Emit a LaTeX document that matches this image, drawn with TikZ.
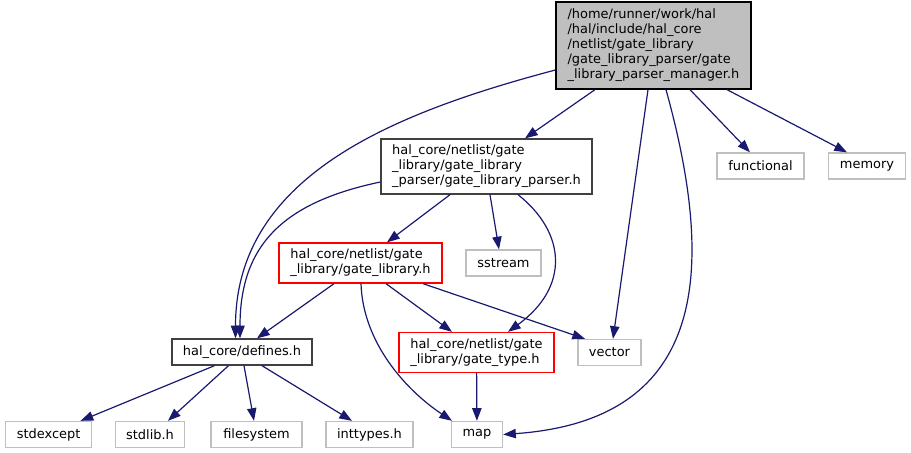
\documentclass[tikz,border=0pt]{standalone}
\usepackage{fontspec}
\setmainfont{DejaVu Sans}
\usetikzlibrary{arrows.meta,calc}
\definecolor{edgeblue}{HTML}{191970}
\definecolor{boxgrey}{HTML}{BFBFBF}
\definecolor{docgrey}{HTML}{404040}
\begin{document}
\begin{tikzpicture}[
  x=0.75pt, y=-0.75pt,
  file/.style={rectangle, draw=docgrey, line width=1pt, inner sep=0pt, align=left,
               font=\fontsize{9.7}{11.25}\selectfont, minimum height=19.5pt},
  root/.style={file, draw=black, fill=boxgrey},
  trunc/.style={file, draw=red},
  ext/.style={file, draw=boxgrey},
  arr/.style={-{Triangle[length=9.5pt,width=7pt]}, edgeblue, line width=0.9pt}
]
\useasboundingbox (0,0) rectangle (911,453);
\node[root, minimum width=146.25pt, minimum height=65.25pt] (main) at (653.5,45.5)
  {/home/runner/work/hal\\/hal/include/hal\_core\\/netlist/gate\_library\\/gate\_library\_parser/gate\\\_library\_parser\_manager.h};
\node[file, minimum width=158.25pt, minimum height=41.25pt] (parser) at (486.5,166.5)
  {hal\_core/netlist/gate\\\_library/gate\_library\\\_parser/gate\_library\_parser.h};
\node[ext, minimum width=65.25pt] (functional) at (760.5,166) {functional};
\node[ext, minimum width=57.75pt] (memory) at (867,166) {memory};
\node[trunc, minimum width=122.25pt, minimum height=30pt] (gatelib) at (360.5,263)
  {hal\_core/netlist/gate\\\_library/gate\_library.h};
\node[ext, minimum width=56.25pt] (sstream) at (503.5,263) {sstream};
\node[file, minimum width=105pt] (defines) at (242,352) {hal\_core/defines.h};
\node[trunc, minimum width=116.25pt, minimum height=30pt] (gatetype) at (476.5,352.5)
  {hal\_core/netlist/gate\\\_library/gate\_type.h};
\node[ext, minimum width=47.25pt] (vector) at (609.5,352.5) {vector};
\node[ext, minimum width=64.8pt] (stdexcept) at (48.6,434.5) {stdexcept};
\node[ext, minimum width=51.75pt] (stdlib) at (150,434.5) {stdlib.h};
\node[ext, minimum width=68.25pt] (filesystem) at (256.5,434.5) {filesystem};
\node[ext, minimum width=65.25pt] (inttypes) at (369.5,434.5) {inttypes.h};
\node[ext, minimum width=38.25pt] (map) at (477,434.5) {map};
% includes of the manager header
\draw[arr] ($(main.west)+(0,24.5)$) .. controls +(-158,42) and +(0,-164) .. ($(defines.north)+(-6.5,0)$);
\draw[arr] ($(main.south)+(-58.5,0)$) -- ($(parser.north)+(38.5,0)$);
\draw[arr] ($(main.south)+(-5.5,0)$) -- ($(vector.north)+(3.5,0)$);
\draw[arr] ($(main.south)+(12.5,0)$) .. controls +(53,191) and +(198,-14) .. (map.east);
\draw[arr] ($(main.south)+(36.5,0)$) -- ($(functional.north)+(-10.5,0)$);
\draw[arr] ($(main.south)+(73.5,0)$) -- ($(memory.north)+(-20,0)$);
% includes of the parser header
\draw[arr] ($(parser.west)+(0,15.5)$) .. controls +(-95,20) and +(0,-95) .. ($(defines.north)+(-2,0)$);
\draw[arr] ($(parser.south)+(-36.5,0)$) -- ($(gatelib.north)+(26.5,0)$);
\draw[arr] ($(parser.south)+(3.5,0)$) -- ($(sstream.north)+(-4.5,0)$);
\draw[arr] ($(parser.south)+(31.5,0)$) .. controls +(48,38) and +(62,-45) .. ($(gatetype.north)+(31.5,0)$);
% includes of gate_library.h
\draw[arr] ($(gatelib.south)+(-26.5,0)$) -- ($(defines.north)+(15,0)$);
\draw[arr] ($(gatelib.south)+(25.5,0)$) -- ($(gatetype.north)+(-24.5,0)$);
\draw[arr] ($(gatelib.south)+(62.5,0)$) -- ($(vector.north)+(-24.5,0)$);
\draw[arr] ($(gatelib.south)+(0.5,0)$) .. controls +(2,60) and +(-45,-30) .. ($(map.north)+(-25,0)$);
\draw[arr] (gatetype) -- (map);
% includes of defines.h
\draw[arr] ($(defines.south)+(-27.5,0)$) -- ($(stdexcept.north)+(32,0)$);
\draw[arr] ($(defines.south)+(-13.5,0)$) -- ($(stdlib.north)+(18,0)$);
\draw[arr] ($(defines.south)+(2,0)$) -- ($(filesystem.north)+(-2.5,0)$);
\draw[arr] ($(defines.south)+(20,0)$) -- ($(inttypes.north)+(-17.5,0)$);
\end{tikzpicture}
\end{document}
